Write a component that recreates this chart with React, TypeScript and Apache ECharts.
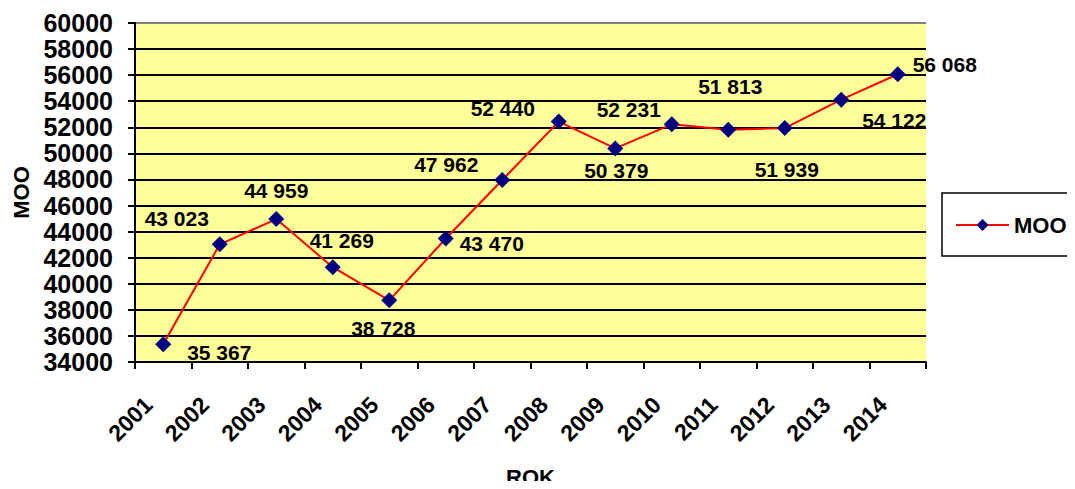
import React, { useEffect, useRef } from "react";
import * as echarts from "echarts";

const years = ["2001", "2002", "2003", "2004", "2005", "2006", "2007", "2008", "2009", "2010", "2011", "2012", "2013", "2014"];
const mooValues = [35367, 43023, 44959, 41269, 38728, 43470, 47962, 52440, 50379, 52231, 51813, 51939, 54122, 56068];
const seriesName = "MOO";
const xAxisTitle = "ROK";
const yAxisTitle = "MOO";

// label offsets (styling only)
const labelOffsets: [number, number][] = [
  [56, 8], [-43, -26], [0, -29], [9, -27], [-6, 28], [46, 5], [-56, -15],
  [-56, -13], [1, 22], [-43, -15], [2, -43], [2, 41], [53, 21], [47, -10],
];

const fmt = (v: number) => {
  const s = String(v);
  return s.slice(0, s.length - 3) + " " + s.slice(-3);
};

export default function App() {
  const ref = useRef<HTMLDivElement>(null);
  useEffect(() => {
    if (!ref.current) return;
    const chart = echarts.init(ref.current, null, { renderer: "svg" });
    const font = "'Liberation Sans', Arial, sans-serif";
    const splitColors = Array.from({ length: 14 }, (_, i) => (i === 13 ? "#808080" : "#000000"));
    chart.setOption({
      animation: false,
      textStyle: { fontFamily: font },
      grid: {
        left: 135,
        top: 23,
        right: 149,
        bottom: 127,
        show: true,
        backgroundColor: "#FFFF99",
        borderWidth: 0,
        containLabel: false,
        outerBoundsMode: "none",
      },
      legend: {
        left: 942,
        top: 193,
        orient: "vertical",
        padding: [21, 40, 20, 13],
        borderColor: "#000000",
        borderWidth: 1.5,
        itemWidth: 53,
        itemHeight: 15,
        itemGap: 8,
        textStyle: { fontSize: 22, fontWeight: "bold", color: "#000", fontFamily: font },
        data: [seriesName],
      },
      xAxis: {
        type: "category",
        data: years,
        boundaryGap: true,
        name: xAxisTitle,
        nameLocation: "middle",
        nameGap: 104,
        nameTextStyle: { fontSize: 22, fontWeight: "bold", color: "#000", fontFamily: font },
        axisLine: { lineStyle: { color: "#000", width: 2 } },
        axisTick: { show: true, length: 7, lineStyle: { color: "#000", width: 2 }, interval: 0 },
        axisLabel: {
          rotate: 45,
          margin: 24,
          padding: [0, 21, 0, 0],
          interval: 0,
          fontSize: 23,
          fontWeight: "bold",
          color: "#000",
          fontFamily: font,
        },
        splitLine: { show: false },
      },
      yAxis: {
        type: "value",
        min: 34000,
        max: 60000,
        interval: 2000,
        name: yAxisTitle,
        nameLocation: "middle",
        nameGap: 100,
        nameRotate: 90,
        nameTextStyle: { fontSize: 22, fontWeight: "bold", color: "#000", fontFamily: font },
        axisLine: { show: true, lineStyle: { color: "#000", width: 2 } },
        axisTick: { show: true, length: 7, lineStyle: { color: "#000", width: 2 } },
        axisLabel: {
          margin: 22,
          fontSize: 25,
          fontWeight: "bold",
          color: "#000",
          fontFamily: font,
          formatter: (v: number) => String(v),
        },
        splitLine: { show: true, lineStyle: { color: splitColors, width: 2 } },
      },
      series: [
        {
          name: seriesName,
          type: "line",
          data: mooValues.map((v, i) => ({
            value: v,
            label: { offset: labelOffsets[i] },
          })),
          symbol: "diamond",
          symbolSize: 16,
          itemStyle: { color: "#000080" },
          lineStyle: { color: "#FF0000", width: 2 },
          label: {
            show: true,
            position: "inside",
            align: "center",
            verticalAlign: "middle",
            formatter: (p: any) => fmt(p.value),
            fontSize: 21,
            fontWeight: "bold",
            color: "#000",
            fontFamily: font,
          },
        },
      ],
    });
    return () => chart.dispose();
  }, []);
  return <div ref={ref} style={{ width: 1075, height: 489, margin: -8 }} />;
}
